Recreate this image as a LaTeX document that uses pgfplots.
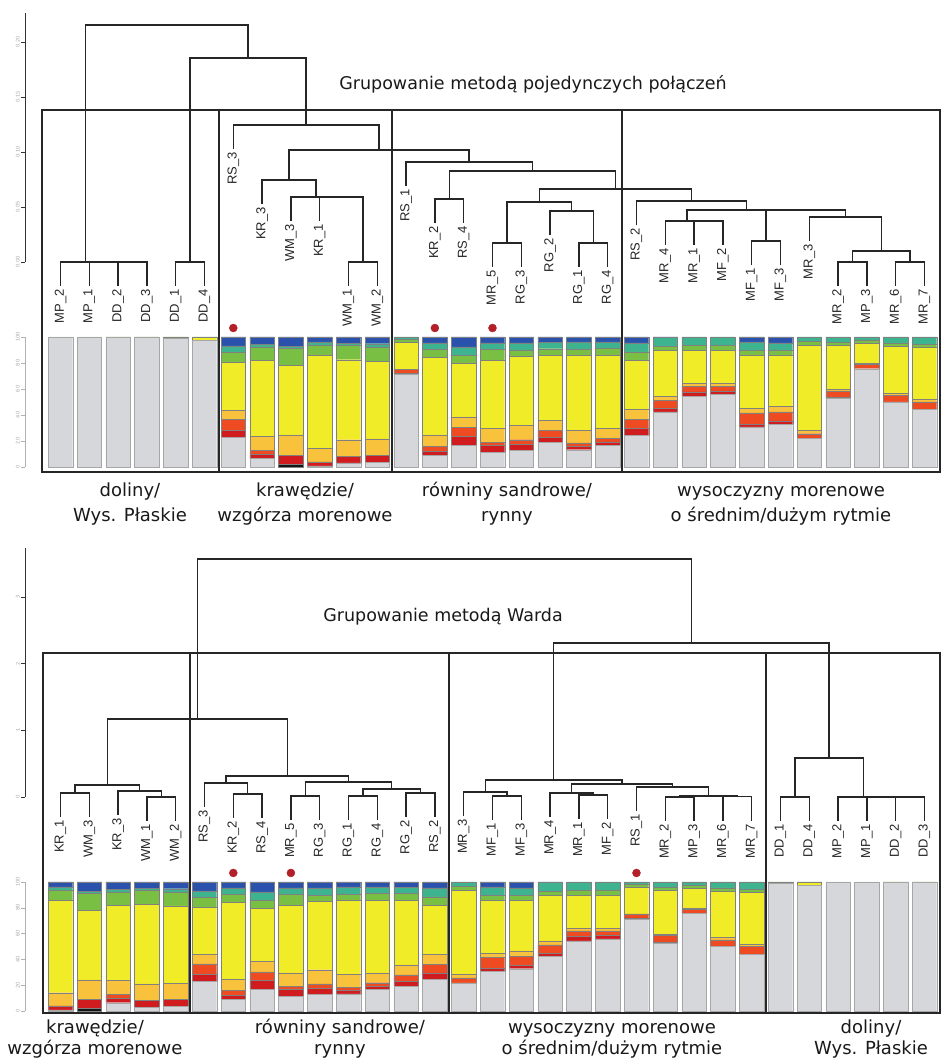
\documentclass[border=0pt]{standalone}
\usepackage{pgfplots}
\pgfplotsset{compat=1.18}
\usepackage{pgfplotstable}
\usepackage{fontspec}
\setmainfont{DejaVu Sans}
\newfontfamily\leaffont{Liberation Sans}

\definecolor{cgrey}{HTML}{D5D7DB}
\definecolor{cblack}{HTML}{151515}
\definecolor{cred}{HTML}{D01C1F}
\definecolor{credor}{HTML}{EF4B22}
\definecolor{clor}{HTML}{F9C23C}
\definecolor{cyel}{HTML}{F0EC28}
\definecolor{cgreen}{HTML}{78BF43}
\definecolor{cteal}{HTML}{3DB48F}
\definecolor{cblue}{HTML}{2A52AD}
\definecolor{dotred}{HTML}{B3202A}

% land-cover shares (%) of each site; kt / kb = position in the two dendrogram orders
\pgfplotstableread{
lab kt kb gy bk rd ro lo ye gr te bl
MP_2 0 27 100 0 0 0 0 0 0 0 0
MP_1 1 28 100 0 0 0 0 0 0 0 0
DD_2 2 29 99.7 0 0 0 0 0 0.3 0 0
DD_3 3 30 99.7 0 0 0 0 0 0.3 0 0
DD_1 4 25 98.8 0 0 0 0 0.7 0.5 0 0
DD_4 5 26 97.5 0 0 0 0 2.0 0.5 0 0
RS_3 6 5 23.0 0 5.4 8.2 7.2 36.8 7.7 4.8 6.9
KR_3 7 2 6.4 0 3.3 3.1 10.8 58.5 10.3 2.0 5.6
WM_3 8 1 0 2.2 6.7 0 15.2 54.0 13.0 1.5 7.4
KR_1 9 0 0.8 0 3.1 0 10.3 71.8 7.8 2.5 3.7
WM_1 10 3 3.1 0 5.1 0 12.8 61.5 11.0 1.8 4.7
WM_2 11 4 3.8 0 5.1 0 12.8 59.7 10.8 2.6 5.2
RS_1 12 20 71.3 0 0.8 3.2 0 20.5 2.6 1.6 0
KR_2 13 6 9.0 0 3.3 3.6 8.5 59.7 6.2 5.1 4.6
RS_4 14 7 16.7 0 6.9 6.7 8.2 41.0 6.4 6.4 7.7
MR_5 15 8 11.5 0 5.1 2.6 10.3 52.6 8.2 5.1 4.6
RG_3 16 9 12.8 0 4.6 3.6 11.0 53.1 4.7 5.6 4.6
RG_2 17 12 19.2 0 3.8 5.1 7.7 50.0 5.2 5.1 3.9
RG_1 18 10 13.3 0 2.6 2.6 9.7 57.7 4.4 5.9 3.8
RG_4 19 11 16.7 0 2.6 2.6 7.7 56.4 5.1 5.1 3.8
RS_2 20 13 24.4 0 5.1 6.9 7.7 37.9 6.5 6.9 4.6
MR_4 21 17 42.3 0 2.6 6.4 3.1 35.4 3.1 6.6 0.5
MR_1 22 18 54.4 0 3.3 4.4 2.1 25.6 3.8 6.4 0
MF_2 23 19 55.9 0 2.6 3.6 2.1 25.6 3.8 6.4 0
MF_1 24 15 30.8 0 2.1 8.7 3.3 41.0 3.9 6.4 3.8
MF_3 25 16 32.8 0 2.6 6.9 4.4 39.2 3.9 5.6 4.6
MR_3 26 14 21.8 0 0 3.8 2.6 65.4 3.2 3.2 0
MR_2 27 21 52.6 0 0.8 5.1 1.3 33.8 2.1 4.3 0
MP_3 28 22 75.6 0 0 3.3 1.0 15.4 2.1 2.6 0
MR_6 29 23 50.0 0 0 5.1 1.8 35.9 2.6 4.6 0
MR_7 30 24 44.1 0 0 5.9 1.8 40.0 2.6 5.6 0
}\sites

% leaf labels: position and lower end of the leaf stem
\pgfplotstableread{
k h lab
0 -0.022 MP\_2
1 -0.022 MP\_1
2 -0.022 DD\_2
3 -0.022 DD\_3
4 -0.022 DD\_1
5 -0.022 DD\_4
6 0.1025 RS\_3
7 0.0525 KR\_3
8 0.0371 WM\_3
9 0.0371 KR\_1
10 -0.022 WM\_1
11 -0.022 WM\_2
12 0.0689 RS\_1
13 0.0353 KR\_2
14 0.0353 RS\_4
15 -0.0047 MR\_5
16 -0.0047 RG\_3
17 0.0244 RG\_2
18 -0.0047 RG\_1
19 -0.0047 RG\_4
20 0.0335 RS\_2
21 0.0153 MR\_4
22 0.0153 MR\_1
23 0.0153 MF\_2
24 -0.0029 MF\_1
25 -0.0029 MF\_3
26 0.0189 MR\_3
27 -0.022 MR\_2
28 -0.022 MP\_3
29 -0.022 MR\_6
30 -0.022 MR\_7
}\leavestop

\pgfplotstableread{
k h lab
0 -0.30 KR\_1
1 -0.30 WM\_3
2 -0.27 KR\_3
3 -0.36 WM\_1
4 -0.36 WM\_2
5 -0.15 RS\_3
6 -0.315 KR\_2
7 -0.315 RS\_4
8 -0.345 MR\_5
9 -0.345 RG\_3
10 -0.345 RG\_1
11 -0.345 RG\_4
12 -0.30 RG\_2
13 -0.30 RS\_2
14 -0.285 MR\_3
15 -0.345 MF\_1
16 -0.345 MF\_3
17 -0.30 MR\_4
18 -0.33 MR\_1
19 -0.33 MF\_2
20 -0.21 RS\_1
21 -0.36 MR\_2
22 -0.36 MP\_3
23 -0.355 MR\_6
24 -0.355 MR\_7
25 -0.36 DD\_1
26 -0.36 DD\_4
27 -0.36 MP\_2
28 -0.36 MP\_1
29 -0.36 DD\_2
30 -0.36 DD\_3
}\leavesbot

\pgfplotsset{
  panel/.style={scale only axis, width=915pt, xmin=-1.233, xmax=30.54,
    hide x axis, axis y line*=left, clip=false, enlargelimits=false,
    tick align=outside, major tick length=4pt,
    yticklabel style={rotate=90, anchor=south, font=\fontsize{5}{5}\selectfont, text=gray!70, inner sep=1pt},
    /pgf/number format/assume math mode=true},
  dend/.style={black!85, line width=1.5pt, mark=none},
  leaves/.style={draw=none, mark=none, nodes near coords, point meta=explicit symbolic,
    nodes near coords style={font=\leaffont\fontsize{13}{13}\selectfont, rotate=90, anchor=east, inner sep=3pt, text=black!85}},
  seg/.style={draw=black!50, line width=0.35pt},
}

\begin{document}
\begin{tikzpicture}
\useasboundingbox (0pt,0pt) rectangle (942pt,1059pt);

% ---------- single linkage dendrogram ----------
\begin{axis}[panel, at={(25pt,797pt)}, anchor=south west, height=249pt,
  ymin=0, ymax=0.2264, ytick={0,0.05,0.10,0.15,0.20},
  yticklabel style={/pgf/number format/.cd, fixed, fixed zerofill, precision=2},
  y axis line style={black!80, line width=0.8pt}, ytick style={black!80}]
\addplot[dend] coordinates {(2,-0.022) (2,0) (3,0) (3,-0.022)};
\addplot[dend] coordinates {(1,-0.022) (1,0) (2.5,0)};
\addplot[dend] coordinates {(0,-0.022) (0,0) (1.75,0)};
\addplot[dend] coordinates {(4,-0.022) (4,0) (5,0) (5,-0.022)};
\addplot[dend] coordinates {(0.875,0) (0.875,0.2155) (6.516,0.2155) (6.516,0.1855)};
\addplot[dend] coordinates {(4.5,0) (4.5,0.1855) (8.532,0.1855) (8.532,0.1245)};
\addplot[dend] coordinates {(6,0.1025) (6,0.1245) (11.064,0.1245) (11.064,0.1018)};
\addplot[dend] coordinates {(7.9375,0.0745) (7.9375,0.1018) (14.19,0.1018) (14.19,0.0909)};
\addplot[dend] coordinates {(7,0.0525) (7,0.0745) (8.875,0.0745) (8.875,0.0591)};
\addplot[dend] coordinates {(8,0.0371) (8,0.0591) (9.75,0.0591)};
\addplot[dend] coordinates {(9,0.0371) (9,0.0591) (10.5,0.0591) (10.5,0)};
\addplot[dend] coordinates {(10,-0.022) (10,0) (11,0) (11,-0.022)};
\addplot[dend] coordinates {(12,0.0689) (12,0.0909) (16.383,0.0909) (16.383,0.0827)};
\addplot[dend] coordinates {(13.5,0.0573) (13.5,0.0827) (19.266,0.0827) (19.266,0.0664)};
\addplot[dend] coordinates {(13,0.0353) (13,0.0573) (14,0.0573) (14,0.0353)};
\addplot[dend] coordinates {(16.625,0.0545) (16.625,0.0664) (21.906,0.0664) (21.906,0.0555)};
\addplot[dend] coordinates {(15.5,0.0173) (15.5,0.0545) (17.75,0.0545) (17.75,0.0464)};
\addplot[dend] coordinates {(15,-0.0047) (15,0.0173) (16,0.0173) (16,-0.0047)};
\addplot[dend] coordinates {(17,0.0244) (17,0.0464) (18.5,0.0464) (18.5,0.0173)};
\addplot[dend] coordinates {(18,-0.0047) (18,0.0173) (19,0.0173) (19,-0.0047)};
\addplot[dend] coordinates {(20,0.0335) (20,0.0555) (23.8125,0.0555) (23.8125,0.0473)};
\addplot[dend] coordinates {(21.75,0.0373) (21.75,0.0473) (25.875,0.0473)};
\addplot[dend] coordinates {(24.5,0.0191) (24.5,0.0473) (27.25,0.0473) (27.25,0.0409)};
\addplot[dend] coordinates {(21,0.0153) (21,0.0373) (22.5,0.0373)};
\addplot[dend] coordinates {(22,0.0153) (22,0.0373) (23,0.0373) (23,0.0153)};
\addplot[dend] coordinates {(24,-0.0029) (24,0.0191) (25,0.0191) (25,-0.0029)};
\addplot[dend] coordinates {(26,0.0189) (26,0.0409) (28.5,0.0409) (28.5,0.0100)};
\addplot[dend] coordinates {(27.5,0) (27.5,0.0100) (29.5,0.0100) (29.5,0)};
\addplot[dend] coordinates {(27,-0.022) (27,0) (28,0) (28,-0.022)};
\addplot[dend] coordinates {(29,-0.022) (29,0) (30,0) (30,-0.022)};
\addplot[leaves] table[x=k, y=h, meta=lab] {\leavestop};
\end{axis}

% ---------- single linkage: land-cover bars ----------
\begin{axis}[panel, at={(25pt,592pt)}, anchor=south west, height=130pt,
  ymin=0, ymax=100, ytick={0,20,...,100},
  ybar stacked, bar width=0.85,
  y axis line style={gray!60, line width=0.6pt}, ytick style={gray!60}]
\addplot[seg, fill=cgrey, draw=gray!70] table[x=kt, y=gy] {\sites};
\addplot[seg, fill=cblack] table[x=kt, y=bk] {\sites};
\addplot[seg, fill=cred] table[x=kt, y=rd] {\sites};
\addplot[seg, fill=credor] table[x=kt, y=ro] {\sites};
\addplot[seg, fill=clor] table[x=kt, y=lo] {\sites};
\addplot[seg, fill=cyel] table[x=kt, y=ye] {\sites};
\addplot[seg, fill=cgreen] table[x=kt, y=gr] {\sites};
\addplot[seg, fill=cteal] table[x=kt, y=te] {\sites};
\addplot[seg, fill=cblue] table[x=kt, y=bl] {\sites};
\end{axis}
\begin{axis}[panel, at={(25pt,592pt)}, anchor=south west, height=130pt,
  ymin=0, ymax=100, axis y line=none]
\addplot[only marks, mark=*, mark size=4pt, color=dotred] coordinates {(6,106.9) (13,106.9) (15,106.9)};
\end{axis}

% ---------- Ward dendrogram ----------
\begin{axis}[panel, at={(25pt,262pt)}, anchor=south west, height=249pt,
  ymin=0, ymax=3.733, ytick={0,1,2,3},
  y axis line style={black!80, line width=0.8pt}, ytick style={black!80}]
\addplot[dend] coordinates {(4.75,1.169) (4.75,3.568) (21.906,3.568) (21.906,2.309)};
\addplot[dend] coordinates {(1.625,0.180) (1.625,1.169) (7.875,1.169) (7.875,0.315)};
\addplot[dend] coordinates {(0.5,0.060) (0.5,0.180) (2.75,0.180) (2.75,0.090)};
\addplot[dend] coordinates {(0,-0.30) (0,0.060) (1,0.060) (1,-0.30)};
\addplot[dend] coordinates {(2,-0.27) (2,0.090) (3.5,0.090) (3.5,0)};
\addplot[dend] coordinates {(3,-0.36) (3,0) (4,0) (4,-0.36)};
\addplot[dend] coordinates {(5.75,0.210) (5.75,0.315) (10,0.315) (10,0.225)};
\addplot[dend] coordinates {(5,-0.15) (5,0.210) (6.5,0.210) (6.5,0.045)};
\addplot[dend] coordinates {(6,-0.315) (6,0.045) (7,0.045) (7,-0.315)};
\addplot[dend] coordinates {(8.5,0.015) (8.5,0.225) (11.5,0.225) (11.5,0.120)};
\addplot[dend] coordinates {(8,-0.345) (8,0.015) (9,0.015) (9,-0.345)};
\addplot[dend] coordinates {(10.5,0.015) (10.5,0.120) (12.5,0.120) (12.5,0.060)};
\addplot[dend] coordinates {(10,-0.345) (10,0.015) (11,0.015) (11,-0.345)};
\addplot[dend] coordinates {(12,-0.30) (12,0.060) (13,0.060) (13,-0.30)};
\addplot[dend] coordinates {(17.125,0.255) (17.125,2.309) (26.6875,2.309) (26.6875,0.585)};
\addplot[dend] coordinates {(14.75,0.075) (14.75,0.255) (19.5,0.255) (19.5,0.195)};
\addplot[dend] coordinates {(14,-0.285) (14,0.075) (15.5,0.075) (15.5,0.015)};
\addplot[dend] coordinates {(15,-0.345) (15,0.015) (16,0.015) (16,-0.345)};
\addplot[dend] coordinates {(17.75,0.060) (17.75,0.195) (21.25,0.195) (21.25,0.150)};
\addplot[dend] coordinates {(17,-0.30) (17,0.060) (18.5,0.060) (18.5,0.030)};
\addplot[dend] coordinates {(18,-0.33) (18,0.030) (19,0.030) (19,-0.33)};
\addplot[dend] coordinates {(20,-0.21) (20,0.150) (22.5,0.150) (22.5,0.015)};
\addplot[dend] coordinates {(21.5,0) (21.5,0.015) (23.5,0.015) (23.5,0.005)};
\addplot[dend] coordinates {(21,-0.36) (21,0) (22,0) (22,-0.36)};
\addplot[dend] coordinates {(23,-0.355) (23,0.005) (24,0.005) (24,-0.355)};
\addplot[dend] coordinates {(25.5,0) (25.5,0.585) (27.875,0.585) (27.875,0)};
\addplot[dend] coordinates {(25,-0.36) (25,0) (26,0) (26,-0.36)};
\addplot[dend] coordinates {(29,-0.36) (29,0) (30,0) (30,-0.36)};
\addplot[dend] coordinates {(28,-0.36) (28,0) (29.5,0)};
\addplot[dend] coordinates {(27,-0.36) (27,0) (28.75,0)};
\addplot[leaves] table[x=k, y=h, meta=lab] {\leavesbot};
\end{axis}

% ---------- Ward: land-cover bars ----------
\begin{axis}[panel, at={(25pt,48pt)}, anchor=south west, height=129pt,
  ymin=0, ymax=100, ytick={0,20,...,100},
  ybar stacked, bar width=0.85,
  y axis line style={gray!60, line width=0.6pt}, ytick style={gray!60}]
\addplot[seg, fill=cgrey, draw=gray!70] table[x=kb, y=gy] {\sites};
\addplot[seg, fill=cblack] table[x=kb, y=bk] {\sites};
\addplot[seg, fill=cred] table[x=kb, y=rd] {\sites};
\addplot[seg, fill=credor] table[x=kb, y=ro] {\sites};
\addplot[seg, fill=clor] table[x=kb, y=lo] {\sites};
\addplot[seg, fill=cyel] table[x=kb, y=ye] {\sites};
\addplot[seg, fill=cgreen] table[x=kb, y=gr] {\sites};
\addplot[seg, fill=cteal] table[x=kb, y=te] {\sites};
\addplot[seg, fill=cblue] table[x=kb, y=bl] {\sites};
\end{axis}
\begin{axis}[panel, at={(25pt,48pt)}, anchor=south west, height=129pt,
  ymin=0, ymax=100, axis y line=none]
\addplot[only marks, mark=*, mark size=4pt, color=dotred] coordinates {(6,107) (8,107) (20,107)};
\end{axis}

% ---------- cluster frames ----------
\begin{scope}[line width=1.6pt, black!85]
\draw (42pt,587pt) rectangle (940pt,949pt);
\draw (219pt,587pt) -- (219pt,949pt);
\draw (392pt,587pt) -- (392pt,949pt);
\draw (622pt,587pt) -- (622pt,949pt);
\draw (43pt,46pt) rectangle (940pt,406pt);
\draw (190pt,46pt) -- (190pt,406pt);
\draw (449pt,46pt) -- (449pt,406pt);
\draw (766pt,46pt) -- (766pt,406pt);
\end{scope}

% ---------- titles and cluster names ----------
\begin{scope}[every node/.style={anchor=base, inner sep=0pt, font=\fontsize{18}{18}\selectfont, text=black!90}]
\node[font=\fontsize{17.5}{18}\selectfont] at (533pt,969pt) {Grupowanie metodą pojedynczych połączeń};
\node at (130pt,562pt) {doliny/};
\node at (130pt,537pt) {Wys. Płaskie};
\node at (305pt,562pt) {krawędzie/};
\node at (305pt,537pt) {wzgórza morenowe};
\node at (507pt,562pt) {równiny sandrowe/};
\node at (507pt,537pt) {rynny};
\node at (781pt,562pt) {wysoczyzny morenowe};
\node at (781pt,537pt) {o średnim/dużym rytmie};
\node[font=\fontsize{17.5}{18}\selectfont] at (443pt,437pt) {Grupowanie metodą Warda};
\node at (95pt,25pt) {krawędzie/};
\node at (95pt,5pt) {wzgórza morenowe};
\node at (340pt,25pt) {równiny sandrowe/};
\node at (340pt,5pt) {rynny};
\node at (612pt,25pt) {wysoczyzny morenowe};
\node at (612pt,5pt) {o średnim/dużym rytmie};
\node at (871pt,25pt) {doliny/};
\node at (871pt,5pt) {Wys. Płaskie};
\end{scope}
\end{tikzpicture}
\end{document}
